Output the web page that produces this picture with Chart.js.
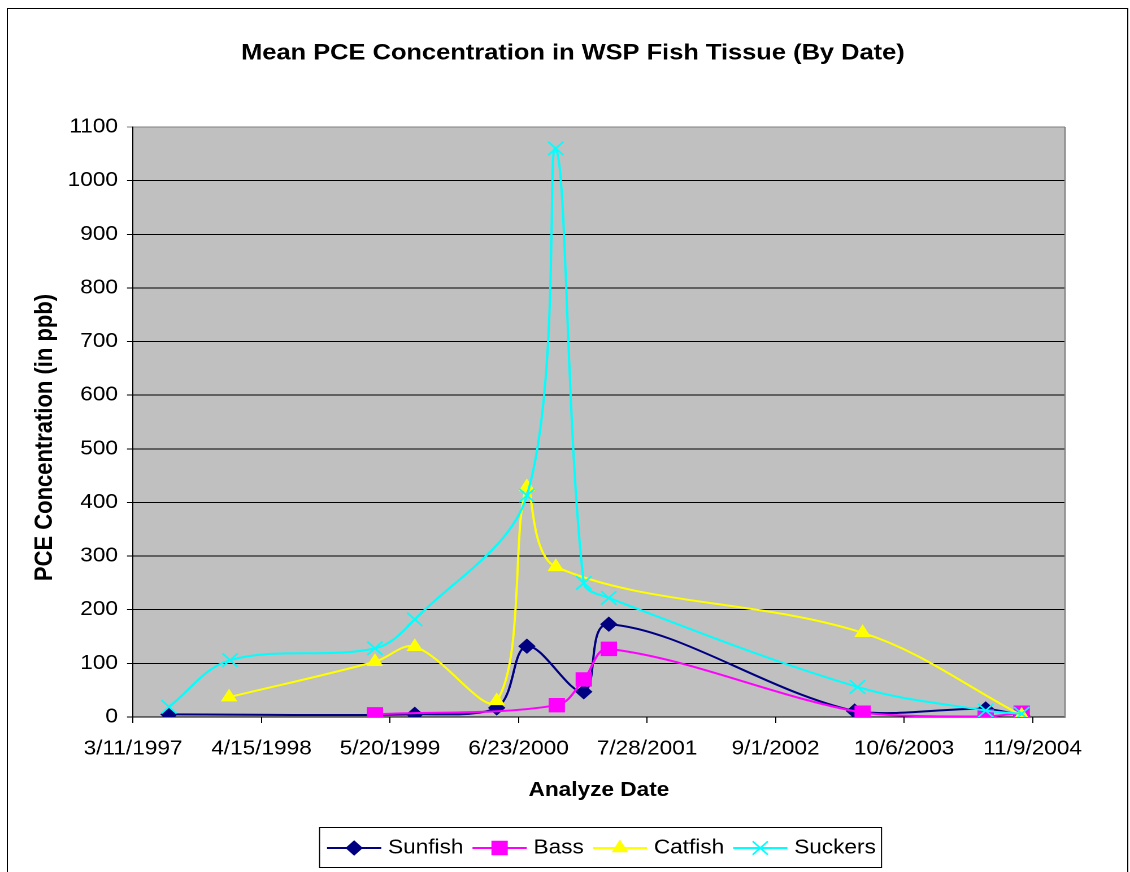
<!DOCTYPE html>
<html>
<head>
<meta charset="utf-8">
<title>Mean PCE Concentration in WSP Fish Tissue (By Date)</title>
<script src="https://cdn.jsdelivr.net/npm/chart.js@4.4.1/dist/chart.umd.min.js"></script>
<style>
  html, body { margin: 0; padding: 0; background: #fff; overflow: hidden; }
  /* the original picture is a little wider than its fonts: stretch the canvas sideways */
  #wrap { width: 1000px; height: 872px; transform: scaleX(1.13); transform-origin: 0 0; }
</style>
</head>
<body>
<div id="wrap"><canvas id="pceChart" width="1000" height="872"></canvas></div>
<script>
// axis starts at 3/11/1997, ticks every 400 days
const axisStart = "3/11/1997";
const axisEnd = "2/18/2005";
const xTickLabels = ["3/11/1997", "4/15/1998", "5/20/1999", "6/23/2000", "7/28/2001", "9/1/2002", "10/6/2003", "11/9/2004"];
const yTicks = [0, 1100, 100]; // min, max, step

const sunfishDates = ["7/1/1997", "8/5/1999", "4/16/2000", "7/19/2000", "1/12/2001", "3/31/2001", "5/5/2003", "6/16/2004", "10/6/2004"];
const sunfishValues = [5, 5, 17, 132, 47, 173, 11, 15, 3];

const bassDates = ["4/3/1999", "10/20/2000", "1/12/2001", "3/31/2001", "5/30/2003", "6/16/2004", "10/6/2004"];
const bassValues = [5, 22, 70, 127, 8, 1, 8];

const catfishDates = ["1/4/1998", "4/3/1999", "8/5/1999", "4/16/2000", "7/19/2000", "10/17/2000", "5/30/2003", "10/6/2004"];
const catfishValues = [37, 103, 131, 30, 429, 280, 157, 3];

const suckersDates = ["7/1/1997", "1/7/1998", "4/3/1999", "8/5/1999", "7/19/2000", "10/17/2000", "1/12/2001", "3/31/2001", "5/14/2003", "6/16/2004", "10/6/2004"];
const suckersValues = [19, 106, 128, 182, 413, 1060, 250, 222, 56, 12, 6];

const FONT = "'Liberation Sans', Arial, sans-serif";
const DAY = 86400000;

function dateMs(s) {
  const [m, d, y] = s.split("/").map(Number);
  return Date.UTC(y, m - 1, d);
}
const startMs = dateMs(axisStart);
const toDay = s => Math.round((dateMs(s) - startMs) / DAY);
const fmtDay = v => {
  const d = new Date(startMs + v * DAY);
  return `${d.getUTCMonth() + 1}/${d.getUTCDate()}/${d.getUTCFullYear()}`;
};
const points = (dates, values) => dates.map((d, i) => ({ x: toDay(d), y: values[i] }));

// plot box, in canvas units
const PLOT = { left: 117.7, right: 942.5, top: 127, bottom: 717 };
const W = 1000, H = 872;

const PlotFrame = {
  id: "plotFrame",
  beforeDraw(chart) {
    const { ctx, chartArea: a } = chart;
    ctx.save();
    ctx.fillStyle = "#fff";
    ctx.fillRect(0, 0, W, H);
    ctx.fillStyle = "#c0c0c0";
    ctx.fillRect(a.left, a.top, a.right - a.left, a.bottom - a.top);
    // outer chart border
    ctx.strokeStyle = "#000";
    ctx.lineWidth = 1;
    ctx.strokeRect(6.5, 8.5, 991.5, 900);
    ctx.restore();
  },
  beforeDatasetsDraw(chart) {
    const { ctx, chartArea: a } = chart;
    ctx.save();
    ctx.strokeStyle = "#808080";
    ctx.lineWidth = 1.2;
    ctx.beginPath();
    ctx.moveTo(a.right, a.top);
    ctx.lineTo(a.right, a.bottom);
    ctx.stroke();
    ctx.restore();
  }
};

const Texts = {
  id: "texts",
  afterDraw(chart) {
    const { ctx } = chart;
    ctx.save();
    ctx.fillStyle = "#000";
    ctx.textAlign = "center";
    ctx.textBaseline = "alphabetic";
    ctx.font = `bold 22.5px ${FONT}`;
    ctx.fillText("Mean PCE Concentration in WSP Fish Tissue (By Date)", 507, 59.5);
    ctx.font = `bold 20px ${FONT}`;
    ctx.fillText("Analyze Date", 530, 796);
    ctx.translate(46, 437.5);
    ctx.rotate(-Math.PI / 2);
    ctx.font = `bold 22px ${FONT}`;
    ctx.fillText("PCE Concentration (in ppb)", 0, 0);
    ctx.restore();
  }
};

// Excel style legend: boxed, line with marker in the middle
const BoxLegend = {
  id: "boxLegend",
  afterDraw(chart) {
    const { ctx } = chart;
    const box = { x: 282.3, y: 827, w: 497.3, h: 40 };
    const cy = box.y + box.h / 2 + 1;
    ctx.save();
    ctx.fillStyle = "#fff";
    ctx.fillRect(box.x, box.y, box.w, box.h);
    ctx.strokeStyle = "#000";
    ctx.lineWidth = 1;
    ctx.strokeRect(box.x + 0.5, box.y + 0.5, box.w, box.h);
    ctx.font = `20px ${FONT}`;
    ctx.textBaseline = "middle";
    let x = 289.4;
    chart.data.datasets.forEach(ds => {
      const lineLen = 48;
      ctx.strokeStyle = ds.borderColor;
      ctx.lineWidth = 2;
      ctx.beginPath();
      ctx.moveTo(x, cy);
      ctx.lineTo(x + lineLen, cy);
      ctx.stroke();
      ctx.fillStyle = ds.pointBackgroundColor;
      ctx.strokeStyle = ds.pointBorderColor;
      ctx.lineWidth = ds.pointBorderWidth;
      Chart.helpers.drawPoint(ctx, {
        pointStyle: ds.pointStyle,
        radius: ds.pointRadius,
        borderWidth: ds.pointBorderWidth,
        rotation: 0
      }, x + lineLen / 2, cy);
      ctx.fillStyle = "#000";
      ctx.textAlign = "left";
      const tx = x + lineLen + 6;
      ctx.fillText(ds.label, tx, cy);
      x = tx + ctx.measureText(ds.label).width + 8;
    });
    ctx.restore();
  }
};

function series(label, dates, values, color, style, radius, order, pbw) {
  return {
    label,
    data: points(dates, values),
    borderColor: color,
    backgroundColor: color,
    borderWidth: 2,
    pointStyle: style,
    pointRadius: radius,
    pointBackgroundColor: color,
    pointBorderColor: color,
    pointBorderWidth: pbw,
    tension: 0.35,
    order
  };
}

new Chart(document.getElementById("pceChart"), {
  type: "line",
  data: {
    datasets: [
      series("Sunfish", sunfishDates, sunfishValues, "#000080", "rectRot", 7, 3, 1),
      series("Bass", bassDates, bassValues, "#ff00ff", "rect", 9.5, 2, 1),
      series("Catfish", catfishDates, catfishValues, "#ffff00", "triangle", 7.5, 1, 1),
      series("Suckers", suckersDates, suckersValues, "#00ffff", "crossRot", 9.5, 0, 1.6)
    ]
  },
  options: {
    responsive: false,
    animation: false,
    devicePixelRatio: 2,
    events: [],
    layout: { padding: { left: 0, top: PLOT.top, right: W - PLOT.right, bottom: 95 } },
    plugins: {
      legend: { display: false },
      title: { display: false },
      tooltip: { enabled: false }
    },
    scales: {
      x: {
        type: "linear",
        min: 0,
        max: toDay(axisEnd),
        afterBuildTicks: scale => {
          scale.ticks = xTickLabels.map(l => ({ value: toDay(l) }));
        },
        afterFit: scale => { scale.height = 60; },
        ticks: {
          callback: v => fmtDay(v),
          color: "#000",
          font: { family: FONT, size: 20 },
          padding: 14,
          maxRotation: 0,
          autoSkip: false
        },
        grid: { drawOnChartArea: false, drawTicks: true, tickLength: 6, color: "#000" },
        border: { display: true, color: "#000", width: 1 }
      },
      y: {
        min: yTicks[0],
        max: yTicks[1],
        afterFit: scale => { scale.width = PLOT.left; },
        ticks: {
          stepSize: yTicks[2],
          callback: v => String(v),
          color: "#000",
          font: { family: FONT, size: 20 },
          padding: 8
        },
        grid: {
          color: c => (c.tick && c.tick.value === yTicks[1] ? "#808080" : "#000"),
          lineWidth: 1,
          tickLength: 5.3
        },
        border: { display: true, color: "#000", width: 1 }
      }
    }
  },
  plugins: [PlotFrame, Texts, BoxLegend]
});
</script>
</body>
</html>
